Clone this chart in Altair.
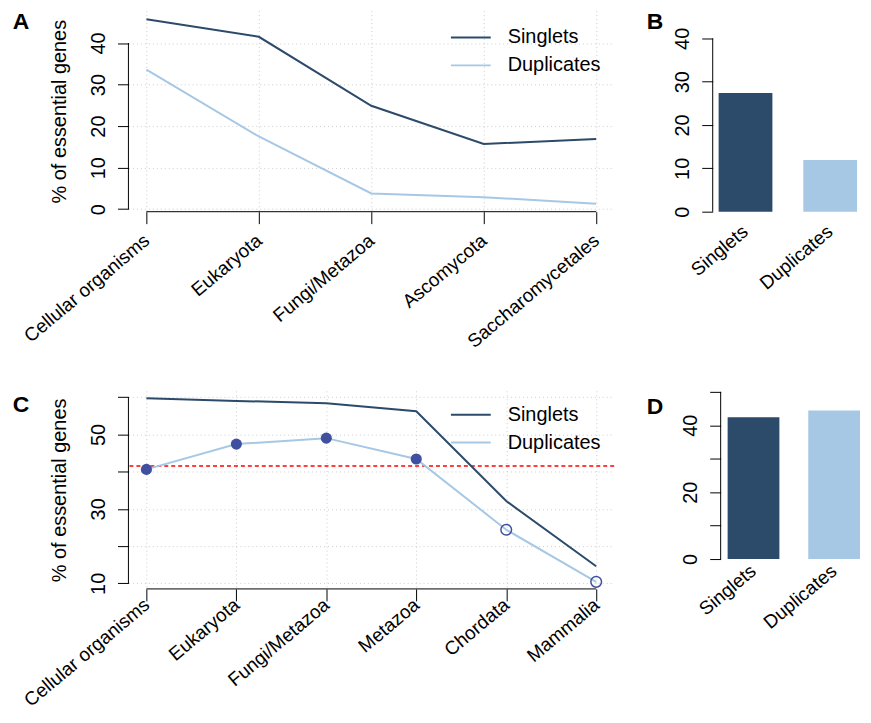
import altair as alt
import pandas as pd

# ---------------- data ----------------
groups = ["Singlets", "Duplicates"]

clades_a = ["Cellular organisms", "Eukaryota", "Fungi/Metazoa", "Ascomycota", "Saccharomycetales"]
singlets_a = [45.7, 41.5, 24.9, 15.7, 16.9]
duplicates_a = [33.6, 17.5, 3.8, 2.9, 1.3]

overall_b = [27.4, 11.9]

clades_c = ["Cellular organisms", "Eukaryota", "Fungi/Metazoa", "Metazoa", "Chordata", "Mammalia"]
singlets_c = [59.7, 59.0, 58.4, 56.2, 32.1, 14.6]
duplicates_c = [40.6, 47.4, 49.0, 43.4, 24.4, 10.4]
dup_significant_c = [True, True, True, True, False, False]
threshold_c = [41.5]

overall_d = [42.4, 44.4]

yticks_a = [0, 10, 20, 30, 40]
yticks_b = [0, 10, 20, 30, 40]
yticks_c = [10, 20, 30, 40, 50, 60]
yticks_d = [0, 10, 20, 30, 40, 50]

# ---------------- style ----------------
DARK = "#2c4a6a"
LIGHT = "#a6c8e4"
POINT = "#4050a0"
GRID = "#cccccc"
FONT = "Liberation Sans"
FS = 20
XFS = 19
XANGLE = -40
color_scale = alt.Scale(domain=groups, range=[DARK, LIGHT])


def names_expr(names):
    return "[" + ",".join("'" + n + "'" for n in names) + "][datum.value]"


def letter(ch, dx, dy):
    return alt.Chart(pd.DataFrame({"t": [ch]})).mark_text(
        font=FONT, fontSize=23, fontWeight="bold", align="center",
        baseline="middle", color="black"
    ).encode(text="t:N", x=alt.value(dx), y=alt.value(dy))


def x_axis(names, label_pad):
    return alt.Axis(
        values=list(range(len(names))), labelExpr=names_expr(names),
        labelAngle=XANGLE, labelAlign="right", labelBaseline="middle",
        labelPadding=label_pad, labelFlush=False, labelOverlap=False,
        labelBound=False, tickSize=12, tickColor="black", tickWidth=1,
        domain=False, grid=True, gridColor=GRID, gridDash=[1, 3],
        labelFont=FONT, labelFontSize=XFS, labelColor="black", title=None)


def y_axis(vals, label_expr=None, title=None, grid=True, offset=0):
    kw = dict(values=vals, labelAngle=-90, labelAlign="center",
              labelBaseline="bottom", labelPadding=9, labelFlush=False,
              labelOverlap=False, tickSize=11, tickColor="black", domain=False,
              grid=grid, gridColor=GRID, gridDash=[1, 3], labelFont=FONT,
              labelFontSize=FS, labelColor="black", offset=offset)
    if label_expr:
        kw["labelExpr"] = label_expr
    if title:
        kw.update(title=title, titleFont=FONT, titleFontSize=FS,
                  titleFontWeight="normal", titleColor="black", titlePadding=19)
    else:
        kw["title"] = None
    return alt.Axis(**kw)


def line_panel(clades, singl, dupl, ydom, yticks, ylabel_expr, width, height,
               legend_xy, letter_ch, letter_xy, xlabel_pad, with_points=False):
    n = len(clades)
    df = pd.DataFrame({
        "idx": list(range(n)) * 2,
        "group": ["Singlets"] * n + ["Duplicates"] * n,
        "value": list(singl) + list(dupl),
    })
    pad = 0.04 * (n - 1)
    xs = alt.Scale(domain=[-pad, n - 1 + pad], nice=False, zero=False)
    ys = alt.Scale(domain=ydom, nice=False, zero=False)
    xax = x_axis(clades, xlabel_pad)
    yax = y_axis(yticks, ylabel_expr, "% of essential genes")

    lines = alt.Chart(df).mark_line(strokeWidth=2).encode(
        x=alt.X("idx:Q", scale=xs, axis=xax),
        y=alt.Y("value:Q", scale=ys, axis=yax),
        color=alt.Color("group:N", scale=color_scale, sort=groups,
                        legend=alt.Legend(
                            orient="none", legendX=legend_xy[0], legendY=legend_xy[1],
                            title=None, symbolType="M-2,0H2", symbolStrokeWidth=2,
                            symbolSize=400, labelFont=FONT, labelFontSize=FS,
                            labelColor="black", labelOffset=26, rowPadding=7,
                            padding=0)),
    )
    # R-style axis lines that span only the tick range
    yline = alt.Chart(pd.DataFrame({"lo": [yticks[0]], "hi": [yticks[-1]]})).mark_rule(
        color="black", strokeWidth=1).encode(
        x=alt.value(0), y=alt.Y("lo:Q", scale=ys, axis=yax), y2="hi:Q")
    xline = alt.Chart(pd.DataFrame({"lo": [0], "hi": [n - 1]})).mark_rule(
        color="black", strokeWidth=1).encode(
        y=alt.value(height), x=alt.X("lo:Q", scale=xs, axis=xax), x2="hi:Q")

    layers = [yline, xline]
    if with_points:
        thr = alt.Chart(pd.DataFrame({"t": threshold_c})).mark_rule(
            color="#ff0000", strokeDash=[4, 3], strokeWidth=1.5).encode(
            y=alt.Y("t:Q", scale=ys, axis=yax))
        layers.append(thr)
    layers.append(lines)
    if with_points:
        dfp = pd.DataFrame({"idx": list(range(n)), "value": list(dupl),
                            "sig": dup_significant_c})
        filled = alt.Chart(dfp).transform_filter("datum.sig").mark_circle(
            size=125, color=POINT, opacity=1).encode(
            x=alt.X("idx:Q", scale=xs, axis=xax),
            y=alt.Y("value:Q", scale=ys, axis=yax))
        hollow = alt.Chart(dfp).transform_filter("!datum.sig").mark_point(
            shape="circle", size=115, filled=False, color=POINT, strokeWidth=1.5,
            opacity=1).encode(
            x=alt.X("idx:Q", scale=xs, axis=xax),
            y=alt.Y("value:Q", scale=ys, axis=yax))
        layers += [filled, hollow]
    layers.append(letter(letter_ch, *letter_xy))
    return alt.layer(*layers).properties(width=width, height=height)


def bar_panel(values, ydom, yticks, ylabel_expr, width, height, xscale_kw,
              axis_offset, label_pad, letter_ch, letter_xy, yoffset=0):
    df = pd.DataFrame({"group": groups, "value": values})
    ys = alt.Scale(domain=ydom, nice=False, zero=False)
    yax = y_axis(yticks, ylabel_expr, None, grid=False, offset=yoffset)
    bars = alt.Chart(df).mark_bar().encode(
        x=alt.X("group:N", scale=alt.Scale(domain=groups, **xscale_kw), sort=groups,
                axis=alt.Axis(labelAngle=XANGLE, labelAlign="right",
                              labelBaseline="middle", labelPadding=label_pad,
                              offset=axis_offset, ticks=False, domain=False,
                              labelFont=FONT, labelFontSize=XFS, labelColor="black",
                              labelBound=False, title=None)),
        y=alt.Y("value:Q", scale=ys, axis=yax),
        y2=alt.datum(0),
        color=alt.Color("group:N", scale=color_scale, legend=None),
    )
    yline = alt.Chart(pd.DataFrame({"lo": [yticks[0]], "hi": [yticks[-1]]})).mark_rule(
        color="black", strokeWidth=1).encode(
        x=alt.value(-yoffset), y=alt.Y("lo:Q", scale=ys, axis=yax), y2="hi:Q")
    return alt.layer(bars, yline, letter(letter_ch, *letter_xy)).properties(
        width=width, height=height)


panel_a = line_panel(clades_a, singlets_a, duplicates_a, [-0.6, 47.8], yticks_a,
                     None, 488, 202, (333, 16), "A", (-108, 11), 14)
panel_b = bar_panel(overall_b, [0, 46.4], yticks_b, None, 151, 202,
                    dict(paddingInner=0.365, paddingOuter=0.07),
                    0, 17, "B", (-58, 11))
panel_c = line_panel(clades_c, singlets_c, duplicates_c, [8.5, 61.7], yticks_c,
                     "(datum.value - 10) % 20 == 0 ? datum.label : ''", 488, 199,
                     (333, 13), "C", (-108, 14), 1, with_points=True)
panel_d = bar_panel(overall_d, [-8.93, 50.3], yticks_d,
                    "datum.value % 20 == 0 ? datum.label : ''", 148, 199,
                    dict(range=[8, 148], paddingInner=0.358, paddingOuter=0.0432,
                         align=1),
                    -30, 9, "D", (-58, 16), yoffset=-8)

chart = alt.concat(panel_a, panel_b, panel_c, panel_d, columns=2,
                   spacing={"row": 180, "column": 99}, bounds="flush").properties(
    padding={"left": 4, "top": 1, "right": 0, "bottom": -2}
).resolve_scale(color="independent").configure_view(stroke=None)

chart.save("out.html", embed_options={"renderer": "svg", "actions": False})
